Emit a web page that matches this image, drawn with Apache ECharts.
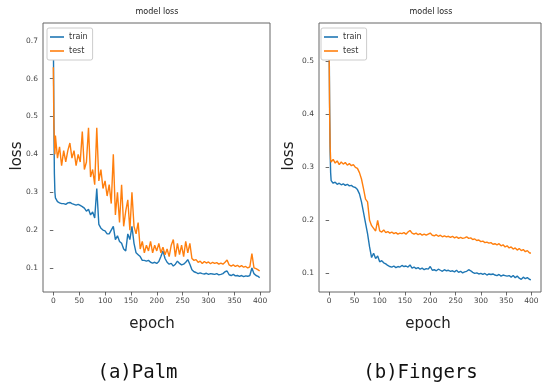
<!DOCTYPE html>
<html>
<head>
<meta charset="utf-8">
<script src="https://cdn.jsdelivr.net/npm/echarts@6/dist/echarts.min.js"></script>
<style>
html,body{margin:0;padding:0;background:#fff;}
#c{width:542px;height:389px;}
</style>
</head>
<body>
<div id="c"></div>
<script>
// ---- data ----
const epochs = [0,1,2,3,
 4,8,12,16,20,24,28,32,36,40,
 44,48,52,56,60,64,68,72,76,80,
 84,88,92,96,100,104,108,112,116,120,
 124,128,132,136,140,144,148,152,156,160,
 164,168,172,176,180,184,188,192,196,200,
 204,208,212,216,220,224,228,232,236,240,
 244,248,252,256,260,264,268,272,276,280,
 284,288,292,296,300,304,308,312,316,320,
 324,328,332,336,340,344,348,352,356,360,
 364,368,372,376,380,384,388,392,396,
 399];

const palmTrain = [0.72,0.50,0.35,0.30,
 0.285,0.275,0.272,0.270,0.270,0.268,0.272,0.273,0.270,0.268,
 0.266,0.268,0.265,0.262,0.258,0.250,0.255,0.240,0.248,0.232,
 0.310,0.215,0.205,0.200,0.198,0.190,0.190,0.200,0.210,0.175,
 0.185,0.170,0.165,0.150,0.145,0.190,0.175,0.210,0.165,0.140,
 0.135,0.130,0.120,0.120,0.118,0.120,0.115,0.113,0.115,0.112,
 0.117,0.130,0.145,0.125,0.115,0.110,0.112,0.105,0.110,0.118,
 0.112,0.108,0.110,0.115,0.122,0.110,0.095,0.090,0.088,0.085,
 0.087,0.085,0.084,0.086,0.083,0.085,0.084,0.083,0.085,0.082,
 0.083,0.085,0.090,0.092,0.082,0.080,0.083,0.079,0.080,0.078,
 0.080,0.077,0.079,0.078,0.080,0.100,0.085,0.080,0.078,
 0.074];

const palmTest = [0.63,0.48,0.44,0.40,
 0.45,0.39,0.42,0.37,0.41,0.38,0.41,0.43,0.39,0.41,
 0.37,0.40,0.38,0.46,0.36,0.38,0.47,0.34,0.36,0.32,
 0.47,0.33,0.36,0.31,0.33,0.29,0.32,0.27,0.40,0.24,
 0.30,0.22,0.32,0.21,0.25,0.28,0.20,0.30,0.21,0.19,
 0.22,0.15,0.17,0.14,0.16,0.145,0.17,0.14,0.16,0.145,
 0.165,0.14,0.155,0.135,0.15,0.13,0.16,0.175,0.13,0.165,
 0.135,0.16,0.13,0.17,0.14,0.165,0.125,0.12,0.122,0.115,
 0.118,0.112,0.117,0.113,0.116,0.111,0.115,0.112,0.114,0.110,
 0.113,0.110,0.115,0.121,0.108,0.105,0.108,0.104,0.107,0.103,
 0.106,0.102,0.104,0.100,0.103,0.138,0.100,0.098,0.095,
 0.092];

const fingersTrain = [0.55,0.42,0.33,0.29,
 0.275,0.270,0.272,0.268,0.270,0.267,0.269,0.266,0.268,0.265,
 0.266,0.263,0.262,0.258,0.250,0.235,0.215,0.195,0.175,0.150,
 0.130,0.138,0.128,0.133,0.122,0.124,0.120,0.118,0.115,0.113,
 0.112,0.114,0.111,0.113,0.112,0.115,0.113,0.114,0.112,0.116,
 0.110,0.112,0.109,0.111,0.108,0.110,0.107,0.109,0.108,0.113,
 0.106,0.107,0.105,0.108,0.106,0.104,0.107,0.105,0.106,0.104,
 0.105,0.103,0.106,0.102,0.104,0.101,0.103,0.104,0.107,0.105,
 0.102,0.100,0.101,0.099,0.100,0.098,0.100,0.097,0.099,0.098,
 0.099,0.097,0.096,0.098,0.095,0.097,0.096,0.095,0.096,0.093,
 0.096,0.092,0.095,0.091,0.089,0.093,0.090,0.092,0.089,
 0.088];

const fingersTest = [0.53,0.40,0.34,0.315,
 0.310,0.315,0.308,0.312,0.305,0.310,0.306,0.309,0.304,0.307,
 0.303,0.305,0.300,0.298,0.290,0.278,0.260,0.240,0.235,0.200,
 0.190,0.185,0.180,0.200,0.180,0.178,0.182,0.177,0.179,0.176,
 0.178,0.175,0.177,0.174,0.176,0.175,0.177,0.174,0.178,0.181,
 0.176,0.174,0.176,0.173,0.175,0.172,0.174,0.172,0.174,0.176,
 0.172,0.171,0.173,0.170,0.172,0.169,0.171,0.169,0.170,0.168,
 0.170,0.167,0.169,0.166,0.168,0.166,0.167,0.169,0.166,0.167,
 0.164,0.165,0.162,0.163,0.160,0.161,0.158,0.159,0.157,0.158,
 0.155,0.156,0.154,0.156,0.152,0.154,0.150,0.152,0.148,0.150,
 0.146,0.148,0.144,0.147,0.143,0.145,0.141,0.143,0.139,
 0.138];

const xTicks = [0,50,100,150,200,250,300,350,400];
const palmYTicks = [0.1,0.2,0.3,0.4,0.5,0.6,0.7];
const fingersYTicks = [0.1,0.2,0.3,0.4,0.5];
const seriesNames = ['train','test'];
const titles = ['model loss','model loss'];
const captions = ['(a)Palm','(b)Fingers'];

// ---- chart ----
const BLUE = '#1f77b4', ORANGE = '#ff7f0e';
const FONT = 'DejaVu Sans';
const pairs = (xs, ys) => xs.map((x, i) => [x, ys[i]]);

function xAxisCfg(gi) {
  return {
    type: 'value', gridIndex: gi, min: -20, max: 419,
    axisLine: {show: false}, splitLine: {show: false},
    axisTick: {show: true, length: 3.5, customValues: xTicks, lineStyle: {color: '#444', width: 0.8}},
    axisLabel: {customValues: xTicks, fontSize: 7.5, color: '#444', margin: 5, fontFamily: FONT}
  };
}
function yAxisCfg(gi, min, max, ticks) {
  return {
    type: 'value', gridIndex: gi, min: min, max: max,
    axisLine: {show: false}, splitLine: {show: false},
    axisTick: {show: true, length: 3.5, customValues: ticks, lineStyle: {color: '#444', width: 0.8}},
    axisLabel: {customValues: ticks, fontSize: 7.5, color: '#444', margin: 5, fontFamily: FONT,
      formatter: v => v.toFixed(1)}
  };
}
function lineSeries(name, gi, data, color, z) {
  return {
    type: 'line', name: name, xAxisIndex: gi, yAxisIndex: gi, data: data,
    showSymbol: false, symbol: 'none', animation: false, z: z,
    lineStyle: {color: color, width: 1.4}, itemStyle: {color: color}
  };
}
function legendCfg(left) {
  return {
    left: left, top: 28, orient: 'vertical', data: seriesNames,
    icon: 'rect', itemWidth: 14, itemHeight: 1.6, itemGap: 6,
    padding: [5, 5, 5, 3], backgroundColor: '#fff', borderColor: '#ccc',
    borderWidth: 1, borderRadius: 2,
    textStyle: {fontSize: 8, color: '#333', fontFamily: FONT},
    selectedMode: false
  };
}
function txt(x, y, s, size, extra) {
  return Object.assign({
    type: 'text', x: x, y: y,
    style: {text: s, fontSize: size, fontFamily: FONT, fill: '#222', align: 'center', verticalAlign: 'middle'}
  }, extra || {});
}

const chart = echarts.init(document.getElementById('c'), null, {renderer: 'canvas'});
chart.setOption({
  animation: false,
  backgroundColor: '#fff',
  grid: [
    {left: 43, top: 23, width: 227, height: 269, show: true, borderColor: '#666', borderWidth: 1, backgroundColor: 'transparent'},
    {left: 319, top: 23, width: 222, height: 269, show: true, borderColor: '#666', borderWidth: 1, backgroundColor: 'transparent'}
  ],
  xAxis: [xAxisCfg(0), xAxisCfg(1)],
  yAxis: [yAxisCfg(0, 0.0365, 0.747, palmYTicks), yAxisCfg(1, 0.065, 0.572, fingersYTicks)],
  legend: [legendCfg(47), legendCfg(321)],
  series: [
    lineSeries(seriesNames[0], 0, pairs(epochs, palmTrain), BLUE, 2),
    lineSeries(seriesNames[1], 0, pairs(epochs, palmTest), ORANGE, 3),
    lineSeries(seriesNames[0], 1, pairs(epochs, fingersTrain), BLUE, 2),
    lineSeries(seriesNames[1], 1, pairs(epochs, fingersTest), ORANGE, 3)
  ],
  graphic: [
    txt(157, 12, titles[0], 8, {}),
    txt(431, 12, titles[1], 8, {}),
    txt(17, 156, 'loss', 15, {rotation: Math.PI / 2}),
    txt(289, 156, 'loss', 15, {rotation: Math.PI / 2}),
    txt(152, 324, 'epoch', 15, {}),
    txt(428, 324, 'epoch', 15, {}),
    {type: 'text', x: 137.5, y: 373, style: {text: captions[0], fontSize: 19, fontFamily: 'DejaVu Sans Mono', fill: '#111', align: 'center', verticalAlign: 'middle'}},
    {type: 'text', x: 420.5, y: 373, style: {text: captions[1], fontSize: 19, fontFamily: 'DejaVu Sans Mono', fill: '#111', align: 'center', verticalAlign: 'middle'}}
  ]
});
</script>
</body>
</html>
